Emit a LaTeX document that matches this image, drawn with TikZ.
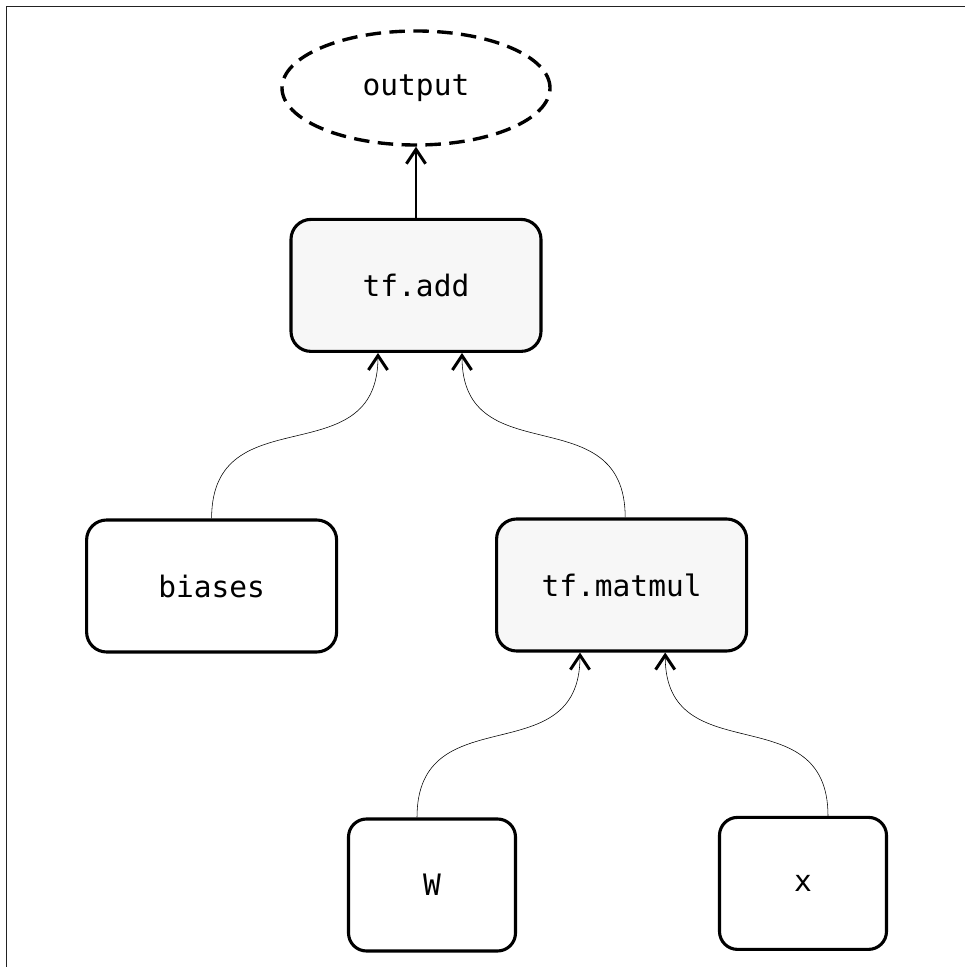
\documentclass[tikz,border=0pt]{standalone}
\usepackage{fontspec}
\setmonofont{DejaVu Sans Mono}
\usetikzlibrary{shapes.geometric,arrows.meta}
\definecolor{opfill}{HTML}{F7F7F7}
\definecolor{framegray}{HTML}{222222}
\tikzstyle{box}=[rectangle,rounded corners=0.5cm,draw=black,line width=2.2pt,fill=white,font=\ttfamily\fontsize{21}{25}\selectfont]
\tikzstyle{op}=[box,fill=opfill,minimum width=6.25cm,minimum height=3.3cm]
\tikzstyle{var}=[box,minimum width=6.25cm,minimum height=3.3cm]
\tikzstyle{input}=[box,rounded corners=0.45cm,minimum width=4.175cm,minimum height=3.3cm]
\tikzstyle{result}=[ellipse,draw=black,line width=2.4pt,dash pattern=on 11pt off 6pt,minimum width=6.7cm,minimum height=2.85cm,font=\ttfamily\fontsize{21}{25}\selectfont]
\tikzstyle{flow}=[line width=0.8pt,out=90,in=-90,looseness=1.35]

\begin{document}
\begin{tikzpicture}[>={Straight Barb[length=3.6mm,width=4.8mm,line width=2.1pt]}]
\useasboundingbox (0,0) rectangle (24.125,24.175);
\draw[framegray, line width=1.1pt] (0.16,0) -- (0.16,24.01) -- (24.125,24.01);

\node (output) at (10.4,21.975) [result] {output};
\node (add) at (10.4,17.04) [op] {tf.add};

\node (biases) at (5.29,9.525) [var] {biases};
\node (matmul) at (15.54,9.55) [op] {tf.matmul};

\node (W) at (10.8,2.05) [input] {W};
\node (x) at (20.075,2.09) [input] {x};

\draw[->, line width=0.9pt] (add) -- (output);

\draw[->] (biases.north) to [flow] ([xshift=-0.95cm]add.south);
\draw[->] ([xshift=0.09cm]matmul.north) to [flow] ([xshift=1.15cm]add.south);
\draw[->] ([xshift=-0.375cm]W.north) to [flow] ([xshift=-1.04cm]matmul.south);
\draw[->] ([xshift=0.625cm]x.north) to [flow] ([xshift=1.09cm]matmul.south);

\end{tikzpicture}
\end{document}
